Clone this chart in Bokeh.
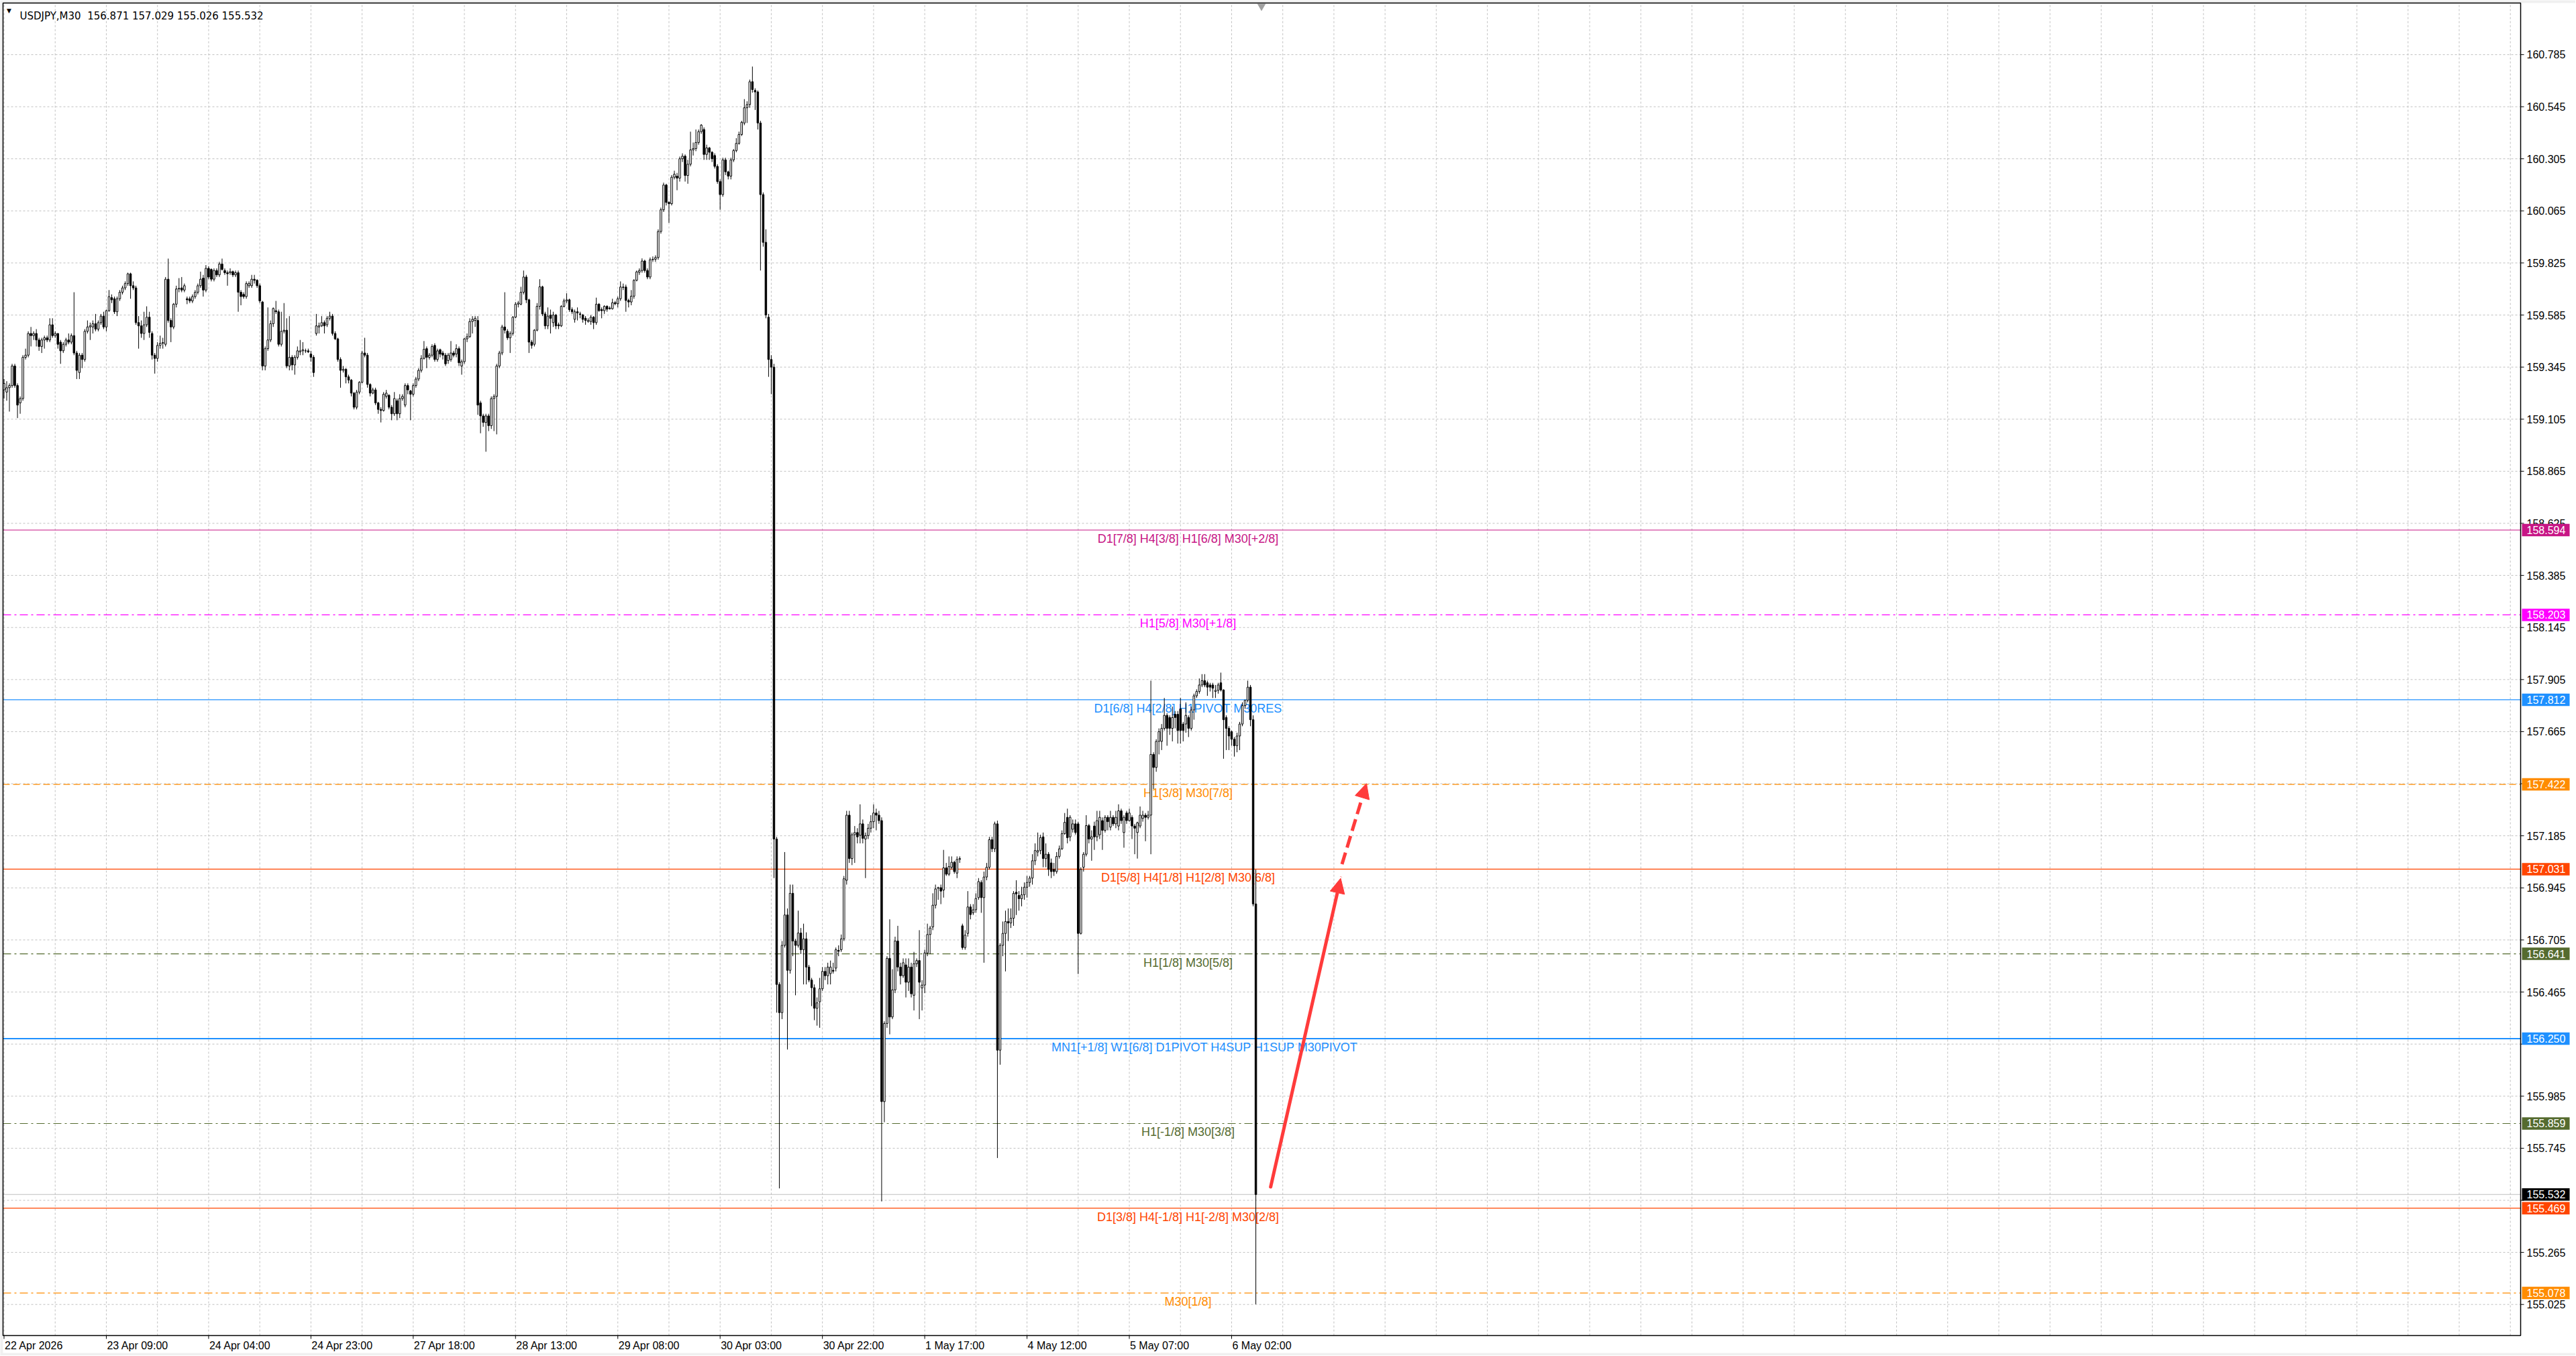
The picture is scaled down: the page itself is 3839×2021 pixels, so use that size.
from bokeh.plotting import figure
from bokeh.models import ColumnDataSource, Range1d, Arrow, NormalHead
from bokeh.core.properties import value
from bokeh.embed import file_html
from bokeh.resources import INLINE

symbol = "USDJPY"
timeframe = "M30"

# time scale: bar index of each label and its text
time_label_bars = [0, 38, 76, 114, 152, 190, 228, 266, 304, 342, 380, 418, 456]
time_labels = ["22 Apr 2026", "23 Apr 09:00", "24 Apr 04:00", "24 Apr 23:00", "27 Apr 18:00",
               "28 Apr 13:00", "29 Apr 08:00", "30 Apr 03:00", "30 Apr 22:00", "1 May 17:00",
               "4 May 12:00", "5 May 07:00", "6 May 02:00"]

# price scale
price_ticks = [155.025, 155.265, 155.505, 155.745, 155.985, 156.225, 156.465, 156.705, 156.945,
               157.185, 157.425, 157.665, 157.905, 158.145, 158.385, 158.625, 158.865, 159.105,
               159.345, 159.585, 159.825, 160.065, 160.305, 160.545, 160.785]
hidden_ticks = [155.505, 156.225, 157.425]  # covered by the price tags

# M30 candles
opens = [
    159.24, 159.23, 159.25, 159.26, 159.35, 159.26, 159.18, 159.20, 159.39, 159.40,
    159.50, 159.49, 159.50, 159.47, 159.44, 159.47, 159.48, 159.47, 159.54, 159.49,
    159.50, 159.46, 159.42, 159.45, 159.47, 159.46, 159.49, 159.41, 159.32, 159.40,
    159.38, 159.51, 159.53, 159.53, 159.545, 159.52, 159.55, 159.58, 159.53, 159.605,
    159.665, 159.66, 159.60, 159.66, 159.69, 159.71, 159.73, 159.775, 159.72, 159.71,
    159.55, 159.535, 159.50, 159.54, 159.575, 159.50, 159.40, 159.385, 159.445, 159.455,
    159.45, 159.75, 159.56, 159.53, 159.635, 159.705, 159.71, 159.70, 159.66, 159.66,
    159.65, 159.67, 159.69, 159.72, 159.755, 159.70, 159.80, 159.795, 159.75, 159.79,
    159.77, 159.82, 159.79, 159.78, 159.78, 159.785, 159.77, 159.78, 159.69, 159.68,
    159.67, 159.72, 159.72, 159.75, 159.745, 159.72, 159.645, 159.35, 159.43, 159.47,
    159.545, 159.605, 159.60, 159.45, 159.51, 159.515, 159.35, 159.39, 159.355, 159.39,
    159.415, 159.42, 159.42, 159.42, 159.405, 159.39, 159.50, 159.53, 159.535, 159.55,
    159.54, 159.57, 159.58, 159.50, 159.475, 159.38, 159.33, 159.335, 159.30, 159.285,
    159.225, 159.16, 159.23, 159.275, 159.41, 159.40, 159.265, 159.225, 159.24, 159.18,
    159.15, 159.145, 159.21, 159.215, 159.16, 159.13, 159.19, 159.13, 159.20, 159.17,
    159.26, 159.235, 159.22, 159.26, 159.29, 159.33, 159.385, 159.43, 159.39, 159.40,
    159.445, 159.38, 159.425, 159.41, 159.40, 159.375, 159.38, 159.41, 159.405, 159.43,
    159.35, 159.37, 159.475, 159.485, 159.555, 159.56, 159.56, 159.18, 159.12, 159.09,
    159.12, 159.075, 159.20, 159.21, 159.35, 159.41, 159.53, 159.51, 159.48, 159.50,
    159.575, 159.635, 159.635, 159.69, 159.76, 159.655, 159.46, 159.45, 159.515, 159.625,
    159.715, 159.59, 159.535, 159.585, 159.55, 159.585, 159.54, 159.535, 159.625, 159.65,
    159.655, 159.61, 159.565, 159.60, 159.59, 159.585, 159.57, 159.555, 159.555, 159.575,
    159.55, 159.635, 159.61, 159.605, 159.625, 159.617, 159.614, 159.642, 159.637, 159.66,
    159.712, 159.714, 159.652, 159.645, 159.672, 159.745, 159.782, 159.79, 159.834, 159.79,
    159.76, 159.84, 159.842, 159.85, 159.97, 160.07, 160.184, 160.104, 160.098, 160.22,
    160.225, 160.216, 160.305, 160.317, 160.228, 160.28, 160.346, 160.352, 160.38, 160.43,
    160.44, 160.325, 160.355, 160.335, 160.32, 160.27, 160.20, 160.14, 160.30, 160.245,
    160.225, 160.30, 160.343, 160.376, 160.417, 160.47, 160.54, 160.555, 160.66, 160.62,
    160.613, 160.47, 160.14, 159.92, 159.575, 159.38, 159.345, 157.17, 156.50, 156.37,
    156.68, 156.82, 156.565, 156.92, 156.70, 156.68, 156.737, 156.66, 156.71, 156.58,
    156.52, 156.485, 156.39, 156.42, 156.48, 156.56, 156.54, 156.55, 156.565, 156.575,
    156.657, 156.66, 156.71, 156.98, 157.28, 157.08, 157.19, 157.20, 157.187, 157.24,
    157.17, 157.186, 157.22, 157.25, 157.29, 157.28, 157.255, 155.96, 156.32, 156.62,
    156.35, 156.475, 156.70, 156.58, 156.54, 156.59, 156.51, 156.58, 156.45, 156.595,
    156.61, 156.484, 156.497, 156.645, 156.73, 156.765, 156.865, 156.943, 156.946, 156.935,
    157.037, 157.008, 157.04, 157.063, 157.013, 157.076, 156.77, 156.67, 156.735, 156.857,
    156.83, 156.844, 156.90, 156.97, 156.90, 156.995, 157.04, 157.167, 157.125, 157.24,
    156.197, 156.68, 156.735, 156.79, 156.783, 156.805, 156.925, 156.91, 156.895, 156.913,
    156.948, 156.97, 156.99, 157.07, 157.11, 157.117, 157.18, 157.08, 157.10, 157.06,
    157.03, 157.02, 157.09, 157.125, 157.195, 157.27, 157.18, 157.215, 157.24, 157.24,
    156.735, 157.04, 157.10, 157.232, 157.17, 157.23, 157.18, 157.19, 157.255, 157.21,
    157.27, 157.225, 157.27, 157.24, 157.23, 157.30, 157.20, 157.29, 157.255, 157.27,
    157.23, 157.20, 157.23, 157.265, 157.28, 157.27, 157.28, 157.56, 157.50, 157.62,
    157.62, 157.68, 157.74, 157.73, 157.68, 157.745, 157.745, 157.77, 157.70, 157.70,
    157.73, 157.68, 157.765, 157.83, 157.85, 157.88, 157.90, 157.89, 157.88, 157.88,
    157.85, 157.855, 157.89, 157.857, 157.73, 157.68, 157.665, 157.63, 157.60, 157.645,
    157.70, 157.785, 157.81, 157.87, 157.72, 156.871,
]
highs = [
    159.29, 159.28, 159.27, 159.36, 159.36, 159.27, 159.21, 159.40, 159.43, 159.51,
    159.53, 159.51, 159.52, 159.48, 159.48, 159.49, 159.49, 159.57, 159.57, 159.51,
    159.50, 159.47, 159.46, 159.48, 159.50, 159.50, 159.69, 159.42, 159.41, 159.41,
    159.52, 159.56, 159.55, 159.56, 159.59, 159.56, 159.59, 159.60, 159.61, 159.70,
    159.68, 159.67, 159.67, 159.70, 159.72, 159.74, 159.78, 159.78, 159.74, 159.72,
    159.58, 159.56, 159.60, 159.625, 159.60, 159.51, 159.41, 159.46, 159.49, 159.48,
    159.76, 159.845, 159.57, 159.64, 159.72, 159.755, 159.76, 159.73, 159.67, 159.67,
    159.68, 159.70, 159.73, 159.785, 159.77, 159.815, 159.81, 159.80, 159.80, 159.80,
    159.83, 159.845, 159.80, 159.79, 159.80, 159.79, 159.79, 159.79, 159.70, 159.69,
    159.74, 159.74, 159.77, 159.77, 159.75, 159.73, 159.65, 159.44, 159.62, 159.56,
    159.62, 159.65, 159.61, 159.60, 159.64, 159.57, 159.58, 159.40, 159.40, 159.44,
    159.47, 159.46, 159.43, 159.43, 159.42, 159.40, 159.59, 159.55, 159.58, 159.56,
    159.58, 159.60, 159.59, 159.51, 159.48, 159.39, 159.35, 159.34, 159.31, 159.29,
    159.23, 159.24, 159.28, 159.42, 159.48, 159.41, 159.27, 159.25, 159.25, 159.185,
    159.16, 159.23, 159.24, 159.22, 159.17, 159.23, 159.20, 159.22, 159.22, 159.27,
    159.27, 159.24, 159.27, 159.30, 159.34, 159.40, 159.465, 159.44, 159.41, 159.45,
    159.455, 159.43, 159.43, 159.42, 159.41, 159.41, 159.465, 159.42, 159.45, 159.44,
    159.38, 159.48, 159.50, 159.57, 159.58, 159.58, 159.58, 159.19, 159.13, 159.13,
    159.13, 159.21, 159.22, 159.36, 159.42, 159.54, 159.69, 159.52, 159.51, 159.58,
    159.645, 159.65, 159.715, 159.79, 159.77, 159.66, 159.47, 159.52, 159.64, 159.75,
    159.72, 159.60, 159.62, 159.61, 159.60, 159.59, 159.55, 159.63, 159.66, 159.685,
    159.66, 159.62, 159.61, 159.62, 159.60, 159.59, 159.58, 159.57, 159.585, 159.58,
    159.665, 159.64, 159.62, 159.63, 159.63, 159.625, 159.66, 159.65, 159.67, 159.74,
    159.73, 159.725, 159.66, 159.70, 159.75, 159.79, 159.80, 159.846, 159.84, 159.80,
    159.85, 159.855, 159.86, 159.98, 160.08, 160.195, 160.19, 160.11, 160.23, 160.25,
    160.24, 160.315, 160.33, 160.325, 160.30, 160.43, 160.38, 160.44, 160.44, 160.465,
    160.45, 160.37, 160.36, 160.34, 160.33, 160.28, 160.21, 160.31, 160.31, 160.25,
    160.31, 160.35, 160.40, 160.43, 160.48, 160.58, 160.57, 160.67, 160.73, 160.63,
    160.62, 160.48, 160.15, 159.98, 159.59, 159.40, 159.36, 157.18, 156.51, 156.70,
    157.11, 156.85, 156.96, 156.96, 156.71, 156.84, 156.76, 156.78, 156.74, 156.59,
    156.53, 156.50, 156.44, 156.53, 156.58, 156.58, 156.60, 156.61, 156.60, 156.67,
    156.68, 156.73, 157.00, 157.30, 157.30, 157.20, 157.23, 157.22, 157.33, 157.26,
    157.20, 157.24, 157.28, 157.33, 157.31, 157.30, 157.27, 156.33, 156.63, 156.80,
    156.57, 156.72, 156.77, 156.60, 156.62, 156.62, 156.62, 156.60, 156.65, 156.62,
    156.75, 156.52, 156.66, 156.78, 156.77, 156.92, 156.96, 156.95, 156.96, 157.12,
    157.06, 157.09, 157.09, 157.07, 157.09, 157.09, 156.78, 156.75, 156.93, 156.87,
    156.87, 156.92, 156.99, 156.98, 157.02, 157.06, 157.18, 157.18, 157.25, 157.255,
    156.69, 156.79, 156.84, 156.85, 156.85, 156.93, 156.98, 156.93, 156.95, 156.97,
    157.00, 157.00, 157.10, 157.15, 157.20, 157.19, 157.20, 157.15, 157.11, 157.08,
    157.06, 157.11, 157.14, 157.21, 157.29, 157.31, 157.28, 157.26, 157.26, 157.25,
    157.04, 157.11, 157.28, 157.24, 157.21, 157.25, 157.30, 157.30, 157.27, 157.28,
    157.28, 157.30, 157.28, 157.30, 157.33, 157.31, 157.28, 157.30, 157.31, 157.28,
    157.24, 157.25, 157.32, 157.30, 157.29, 157.30, 157.90, 157.57, 157.63, 157.68,
    157.70, 157.82, 157.75, 157.74, 157.78, 157.76, 157.76, 157.82, 157.71, 157.80,
    157.74, 157.78, 157.84, 157.86, 157.91, 157.93, 157.93, 157.90, 157.89, 157.89,
    157.88, 157.89, 157.937, 157.86, 157.74, 157.69, 157.67, 157.64, 157.66, 157.71,
    157.80, 157.81, 157.90, 157.88, 157.74, 157.029,
]
lows = [
    159.20, 159.19, 159.14, 159.25, 159.25, 159.11, 159.13, 159.19, 159.38, 159.39,
    159.44, 159.47, 159.44, 159.42, 159.41, 159.43, 159.46, 159.46, 159.48, 159.48,
    159.43, 159.36, 159.41, 159.44, 159.45, 159.45, 159.40, 159.29, 159.29, 159.34,
    159.37, 159.50, 159.47, 159.50, 159.51, 159.51, 159.54, 159.52, 159.51, 159.60,
    159.64, 159.59, 159.58, 159.65, 159.68, 159.70, 159.72, 159.66, 159.70, 159.54,
    159.43, 159.48, 159.47, 159.53, 159.48, 159.38, 159.315, 159.37, 159.43, 159.43,
    159.44, 159.55, 159.46, 159.52, 159.62, 159.69, 159.69, 159.69, 159.635, 159.64,
    159.64, 159.66, 159.68, 159.71, 159.67, 159.69, 159.75, 159.74, 159.74, 159.76,
    159.76, 159.79, 159.77, 159.72, 159.77, 159.76, 159.76, 159.60, 159.63, 159.66,
    159.66, 159.71, 159.71, 159.73, 159.71, 159.64, 159.33, 159.33, 159.42, 159.46,
    159.53, 159.59, 159.44, 159.44, 159.50, 159.34, 159.33, 159.33, 159.31, 159.38,
    159.40, 159.40, 159.41, 159.41, 159.37, 159.30, 159.49, 159.50, 159.53, 159.50,
    159.53, 159.56, 159.49, 159.47, 159.37, 159.25, 159.32, 159.27, 159.27, 159.21,
    159.15, 159.15, 159.22, 159.27, 159.39, 159.25, 159.21, 159.22, 159.17, 159.13,
    159.09, 159.14, 159.20, 159.15, 159.10, 159.12, 159.10, 159.11, 159.19, 159.16,
    159.22, 159.10, 159.21, 159.25, 159.28, 159.32, 159.38, 159.34, 159.38, 159.39,
    159.37, 159.37, 159.39, 159.38, 159.35, 159.36, 159.37, 159.39, 159.39, 159.35,
    159.31, 159.36, 159.46, 159.48, 159.50, 159.53, 159.125, 159.04, 159.07, 158.955,
    159.05, 159.06, 159.05, 159.035, 159.34, 159.40, 159.50, 159.47, 159.41, 159.49,
    159.57, 159.62, 159.63, 159.68, 159.64, 159.41, 159.43, 159.44, 159.51, 159.61,
    159.58, 159.52, 159.52, 159.50, 159.53, 159.52, 159.52, 159.53, 159.62, 159.64,
    159.60, 159.59, 159.55, 159.56, 159.57, 159.55, 159.54, 159.55, 159.54, 159.52,
    159.54, 159.60, 159.57, 159.59, 159.60, 159.61, 159.61, 159.63, 159.62, 159.65,
    159.70, 159.60, 159.62, 159.63, 159.66, 159.74, 159.77, 159.78, 159.78, 159.75,
    159.75, 159.83, 159.83, 159.84, 159.96, 160.06, 160.09, 160.01, 160.09, 160.21,
    160.16, 160.20, 160.29, 160.20, 160.19, 160.27, 160.32, 160.34, 160.37, 160.42,
    160.30, 160.30, 160.30, 160.29, 160.26, 160.19, 160.07, 160.13, 160.23, 160.21,
    160.21, 160.29, 160.335, 160.37, 160.41, 160.46, 160.47, 160.54, 160.61, 160.53,
    160.44, 159.79, 159.90, 159.57, 159.30, 159.22, 156.99, 156.37, 155.56, 156.34,
    156.67, 156.20, 156.55, 156.63, 156.45, 156.67, 156.64, 156.50, 156.50, 156.51,
    156.40, 156.335, 156.31, 156.30, 156.47, 156.52, 156.50, 156.50, 156.55, 156.56,
    156.63, 156.65, 156.70, 156.96, 157.06, 157.05, 157.06, 157.15, 157.15, 157.15,
    156.99, 157.17, 157.20, 157.22, 157.21, 157.24, 155.50, 155.865, 156.30, 156.27,
    156.34, 156.46, 156.56, 156.50, 156.53, 156.44, 156.47, 156.44, 156.38, 156.58,
    156.34, 156.38, 156.46, 156.63, 156.64, 156.75, 156.85, 156.89, 156.87, 156.90,
    157.00, 157.00, 157.03, 157.01, 156.99, 157.06, 156.66, 156.66, 156.72, 156.80,
    156.82, 156.83, 156.89, 156.83, 156.60, 156.98, 157.03, 157.11, 157.11, 155.70,
    156.13, 156.63, 156.56, 156.70, 156.76, 156.77, 156.82, 156.84, 156.86, 156.89,
    156.90, 156.95, 156.96, 157.05, 157.09, 157.10, 157.04, 157.04, 157.00, 156.99,
    157.00, 157.01, 157.08, 157.12, 157.19, 157.15, 157.16, 157.20, 157.19, 156.548,
    156.73, 157.02, 157.09, 157.15, 157.07, 157.12, 157.16, 157.17, 157.12, 157.20,
    157.21, 157.21, 157.23, 157.22, 157.21, 157.24, 157.13, 157.24, 157.25, 157.17,
    157.10, 157.08, 157.22, 157.25, 157.16, 157.26, 157.10, 157.40, 157.48, 157.56,
    157.58, 157.67, 157.60, 157.65, 157.62, 157.68, 157.61, 157.61, 157.62, 157.66,
    157.64, 157.67, 157.72, 157.82, 157.84, 157.87, 157.87, 157.83, 157.85, 157.82,
    157.82, 157.84, 157.85, 157.54, 157.58, 157.58, 157.60, 157.55, 157.57, 157.58,
    157.69, 157.77, 157.80, 157.69, 156.86, 155.026,
]
closes = [
    159.27, 159.25, 159.26, 159.35, 159.26, 159.17, 159.20, 159.39, 159.40, 159.50,
    159.49, 159.50, 159.47, 159.44, 159.47, 159.48, 159.47, 159.54, 159.49, 159.50,
    159.45, 159.42, 159.45, 159.47, 159.46, 159.49, 159.41, 159.33, 159.40, 159.38,
    159.51, 159.53, 159.535, 159.545, 159.52, 159.55, 159.58, 159.53, 159.605, 159.67,
    159.655, 159.60, 159.66, 159.69, 159.71, 159.73, 159.775, 159.72, 159.71, 159.55,
    159.535, 159.50, 159.54, 159.575, 159.505, 159.40, 159.385, 159.445, 159.455, 159.458,
    159.75, 159.56, 159.53, 159.635, 159.705, 159.708, 159.70, 159.72, 159.655, 159.65,
    159.67, 159.69, 159.72, 159.75, 159.70, 159.80, 159.76, 159.75, 159.79, 159.77,
    159.82, 159.795, 159.78, 159.775, 159.785, 159.77, 159.78, 159.69, 159.67, 159.67,
    159.73, 159.73, 159.75, 159.745, 159.72, 159.65, 159.35, 159.43, 159.47, 159.545,
    159.615, 159.60, 159.45, 159.51, 159.515, 159.35, 159.39, 159.355, 159.39, 159.42,
    159.42, 159.425, 159.42, 159.415, 159.39, 159.32, 159.535, 159.535, 159.55, 159.535,
    159.57, 159.58, 159.50, 159.475, 159.38, 159.33, 159.335, 159.30, 159.285, 159.225,
    159.16, 159.23, 159.275, 159.41, 159.40, 159.265, 159.225, 159.24, 159.18, 159.15,
    159.145, 159.22, 159.225, 159.16, 159.13, 159.20, 159.13, 159.20, 159.21, 159.26,
    159.24, 159.22, 159.26, 159.29, 159.33, 159.385, 159.427, 159.39, 159.40, 159.44,
    159.38, 159.42, 159.405, 159.40, 159.36, 159.40, 159.41, 159.40, 159.43, 159.365,
    159.37, 159.475, 159.485, 159.555, 159.565, 159.57, 159.17, 159.12, 159.09, 159.12,
    159.075, 159.20, 159.21, 159.35, 159.41, 159.53, 159.515, 159.48, 159.50, 159.575,
    159.635, 159.64, 159.69, 159.76, 159.655, 159.46, 159.445, 159.515, 159.625, 159.715,
    159.59, 159.535, 159.58, 159.57, 159.585, 159.535, 159.535, 159.625, 159.65, 159.655,
    159.61, 159.60, 159.60, 159.595, 159.588, 159.565, 159.56, 159.56, 159.575, 159.55,
    159.635, 159.605, 159.605, 159.625, 159.612, 159.614, 159.642, 159.637, 159.66, 159.714,
    159.714, 159.652, 159.645, 159.672, 159.745, 159.784, 159.79, 159.834, 159.79, 159.76,
    159.84, 159.842, 159.85, 159.97, 160.07, 160.184, 160.104, 160.098, 160.22, 160.234,
    160.216, 160.305, 160.317, 160.228, 160.28, 160.346, 160.352, 160.38, 160.43, 160.46,
    160.325, 160.355, 160.335, 160.305, 160.27, 160.20, 160.14, 160.30, 160.245, 160.225,
    160.30, 160.343, 160.376, 160.417, 160.473, 160.54, 160.555, 160.66, 160.624, 160.613,
    160.47, 160.14, 159.92, 159.585, 159.38, 159.345, 157.17, 156.50, 156.37, 156.68,
    156.82, 156.565, 156.92, 156.70, 156.68, 156.737, 156.66, 156.71, 156.58, 156.52,
    156.485, 156.39, 156.415, 156.48, 156.56, 156.54, 156.58, 156.58, 156.561, 156.66,
    156.653, 156.71, 156.987, 157.28, 157.08, 157.19, 157.20, 157.18, 157.24, 157.173,
    157.186, 157.22, 157.25, 157.29, 157.28, 157.255, 155.96, 156.32, 156.62, 156.35,
    156.475, 156.70, 156.58, 156.54, 156.60, 156.51, 156.58, 156.457, 156.595, 156.61,
    156.51, 156.497, 156.645, 156.73, 156.76, 156.865, 156.94, 156.946, 156.93, 157.037,
    157.008, 157.043, 157.063, 157.02, 157.076, 157.08, 156.67, 156.727, 156.857, 156.822,
    156.844, 156.896, 156.974, 156.90, 156.995, 157.04, 157.167, 157.125, 157.24, 156.197,
    156.68, 156.735, 156.79, 156.783, 156.805, 156.92, 156.917, 156.895, 156.913, 156.948,
    156.97, 156.99, 157.07, 157.117, 157.117, 157.177, 157.08, 157.10, 157.03, 157.02,
    157.02, 157.09, 157.125, 157.195, 157.247, 157.176, 157.27, 157.24, 157.20, 156.735,
    157.03, 157.10, 157.232, 157.17, 157.18, 157.18, 157.255, 157.27, 157.21, 157.27,
    157.25, 157.27, 157.24, 157.27, 157.30, 157.255, 157.27, 157.255, 157.29, 157.23,
    157.22, 157.245, 157.28, 157.28, 157.27, 157.28, 157.56, 157.50, 157.62, 157.665,
    157.68, 157.74, 157.68, 157.68, 157.73, 157.73, 157.67, 157.67, 157.67, 157.74,
    157.68, 157.765, 157.83, 157.85, 157.88, 157.90, 157.88, 157.87, 157.87, 157.865,
    157.855, 157.88, 157.857, 157.72, 157.68, 157.645, 157.63, 157.60, 157.645, 157.70,
    157.785, 157.81, 157.87, 157.72, 156.871, 155.532,
]

# Murrey/pivot levels drawn by the indicator
level_prices = [158.594, 158.203, 157.812, 157.422, 157.031, 156.641, 156.250, 155.859,
                155.469, 155.078]
level_texts = ["D1[7/8] H4[3/8] H1[6/8] M30[+2/8]",
               "H1[5/8] M30[+1/8]",
               "D1[6/8] H4[2/8] H1PIVOT M30RES",
               "H1[3/8] M30[7/8]",
               "D1[5/8] H4[1/8] H1[2/8] M30[6/8]",
               "H1[1/8] M30[5/8]",
               "MN1[+1/8] W1[6/8] D1PIVOT H4SUP H1SUP M30PIVOT",
               "H1[-1/8] M30[3/8]",
               "D1[3/8] H4[-1/8] H1[-2/8] M30[2/8]",
               "M30[1/8]"]

# hand drawn arrows (bar index, price): solid part then dashed part
arrow_bars = [470.5, 496.5, 497.0, 506.1]
arrow_prices = [155.567, 156.989, 157.054, 157.426]

# ---- styles ----
DASHDOT = "12 5 3 5"
level_colors = ["#C71585", "#FF00FF", "#1E90FF", "#FF8C00", "#FF4500", "#556B2F",
                "#1E90FF", "#556B2F", "#FF4500", "#FF8C00"]
level_dashes = ["solid", DASHDOT, "solid", "10 5", "solid", DASHDOT, "solid", DASHDOT,
                "solid", DASHDOT]
level_widths = [1.2, 1.2, 1.2, 1.2, 1.2, 1.2, 2, 1.2, 1.2, 1.2]
level_text_x = [439.8, 439.8, 439.8, 439.8, 439.8, 439.8, 446.0, 439.8, 439.8, 439.8]
ARROW_RED = "#FF3B3B"
GRID = "#C0C0C0"
FONT = value("Liberation Sans")

# screen layout: MT4 window drawn on one canvas, bar/price scales in pixels
W, H = 3838, 2020
PX_BAR, X0 = 4.012, 5.5          # bar i sits at 5.5 + 4.012*i px
PX_PRICE, Y0 = 323.4, 52078.8    # price p sits at 52078.8 - 323.4*p px


def bx(px):
    return (px - X0) / PX_BAR


def py(px):
    return (Y0 - px) / PX_PRICE


chart_left, chart_right = bx(4), bx(3756)
chart_top, chart_bottom = py(4), py(1990)

p = figure(width=W, height=H, x_range=Range1d(bx(0), bx(W)), y_range=Range1d(py(H), py(0)),
           output_backend="svg", toolbar_location=None, tools="",
           min_border=0, background_fill_color="#F0F0F0", border_fill_color="#F0F0F0")
p.outline_line_color = None
p.axis.visible = False
p.grid.visible = False

# window area
p.quad(left=[bx(4)], right=[bx(W)], top=[py(4)], bottom=[py(2016)],
       fill_color="white", line_color=None)

# grid
vgrid = list(range(0, int(chart_right) + 1, 19))
p.segment(x0=vgrid, y0=chart_bottom, x1=vgrid, y1=chart_top,
          line_color=GRID, line_dash="3 3", line_width=1)
p.segment(x0=chart_left, y0=price_ticks, x1=chart_right, y1=price_ticks,
          line_color=GRID, line_dash="3 3", line_width=1)

# level lines and their texts
for price, col, dash, w in zip(level_prices, level_colors, level_dashes, level_widths):
    p.segment(x0=[chart_left], y0=[price], x1=[chart_right], y1=[price],
              line_color=col, line_dash=dash, line_width=w)
p.segment(x0=[chart_left], y0=[closes[-1]], x1=[chart_right], y1=[closes[-1]],
          line_color="#C0C0C0", line_width=1.2)

lsrc = ColumnDataSource(dict(x=level_text_x, y=level_prices, text=level_texts,
                             color=level_colors))
p.text(x="x", y="y", text="text", source=lsrc, text_color="color", text_align="center",
       text_baseline="top", y_offset=3, text_font=FONT, text_font_size="18px")

# candles
bars = list(range(len(closes)))
src = ColumnDataSource(dict(
    x=bars, high=highs, low=lows,
    top=[max(o, c) for o, c in zip(opens, closes)],
    bottom=[min(o, c) for o, c in zip(opens, closes)],
    fill=["white" if c >= o else "black" for o, c in zip(opens, closes)],
))
p.segment(x0="x", y0="low", x1="x", y1="high", source=src, line_color="black", line_width=1)
p.vbar(x="x", width=0.62, top="top", bottom="bottom", source=src, fill_color="fill",
       line_color="black", line_width=1)

# arrows
p.add_layout(Arrow(end=NormalHead(size=22, fill_color=ARROW_RED, line_color=ARROW_RED),
                   x_start=arrow_bars[0], y_start=arrow_prices[0],
                   x_end=arrow_bars[1], y_end=arrow_prices[1],
                   line_color=ARROW_RED, line_width=5, line_cap="round"))
p.add_layout(Arrow(end=NormalHead(size=22, fill_color=ARROW_RED, line_color=ARROW_RED),
                   x_start=arrow_bars[2], y_start=arrow_prices[2],
                   x_end=arrow_bars[3], y_end=arrow_prices[3],
                   line_color=ARROW_RED, line_width=5, line_dash="18 8"))

# chart frame
p.quad(left=[chart_left], right=[chart_right], top=[chart_top], bottom=[chart_bottom],
       fill_color=None, line_color="black", line_width=1.5)

# chart shift marker on the top border
p.scatter(x=[bx(1879.5)], y=[py(8.5)], marker="inverted_triangle", size=13,
          fill_color="#A0A0A0", line_color=None)

# price scale
tick_len = 5 / PX_BAR
label_dx = 9 / PX_BAR
shown = [t for t in price_ticks if t not in hidden_ticks]
p.segment(x0=chart_right, y0=price_ticks, x1=chart_right + tick_len, y1=price_ticks,
          line_color="black", line_width=1)
p.text(x=chart_right + label_dx, y=shown, text=[f"{t:.3f}" for t in shown],
       text_align="left", text_baseline="middle", text_font=FONT, text_font_size="16px",
       text_color="black")

# price tags
tag_prices = level_prices[:8] + [closes[-1]] + level_prices[8:]
tag_colors = level_colors[:8] + ["black"] + level_colors[8:]
p.rect(x=chart_right + 37.5 / PX_BAR, y=tag_prices, width=71 / PX_BAR,
       height=18.5 / PX_PRICE, fill_color=tag_colors, line_color=None)
p.text(x=chart_right + label_dx, y=tag_prices, text=[f"{t:.3f}" for t in tag_prices],
       text_align="left", text_baseline="middle", text_font=FONT, text_font_size="16px",
       text_color="white")

# time scale
p.segment(x0=time_label_bars, y0=chart_bottom, x1=time_label_bars,
          y1=chart_bottom - 5 / PX_PRICE, line_color="black", line_width=1)
p.text(x=time_label_bars, y=chart_bottom, text=time_labels, x_offset=1, y_offset=6,
       text_align="left", text_baseline="top", text_font=FONT, text_font_size="16px",
       text_color="black")

# header
header = (f"{symbol},{timeframe}\u00a0 {opens[-1]:.3f} {highs[-1]:.3f} "
          f"{lows[-1]:.3f} {closes[-1]:.3f}")
p.text(x=[bx(13)], y=[py(15.5)], text=["\u25bc"], text_align="center",
       text_baseline="middle", text_font=value("DejaVu Sans"), text_font_size="9px",
       text_color="black")
p.text(x=[bx(29)], y=[py(23)], text=[header], text_align="left",
       text_baseline="alphabetic", text_font=value("DejaVu Sans"), text_font_size="15px",
       text_color="black")

open("out.html", "w").write(file_html(p, INLINE))
